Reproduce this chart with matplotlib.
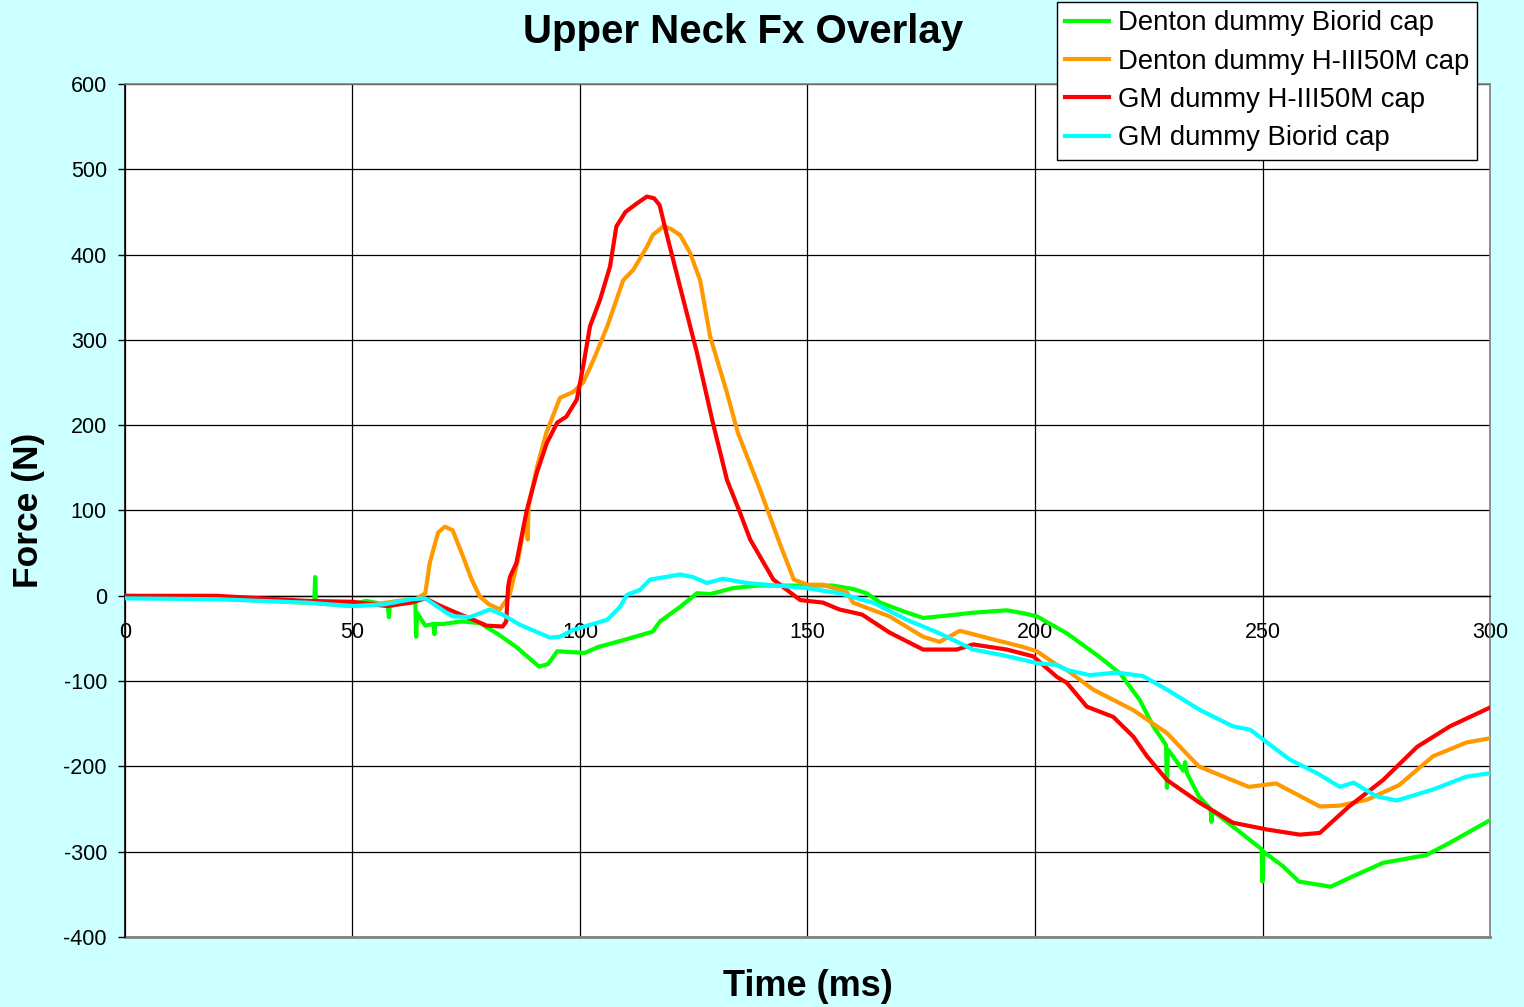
import matplotlib
matplotlib.use("Agg")
import matplotlib.pyplot as plt

# Time axis (ms) and upper-neck Fx (N) for each test configuration
t_denton_biorid = [0, 10, 20, 30, 40, 41.6, 41.8, 42.0, 45, 50, 53, 55, 57.8, 58.0, 58.2, 60, 63,
                   63.8, 64.0, 64.2, 66, 67.8, 68.0, 68.2, 70, 74, 78, 82, 86, 91, 93, 95, 98, 101,
                   104, 109.5, 116, 117.6, 122, 125.7, 128.6, 133.6, 139, 146, 153, 155.6, 160, 163,
                   166, 171, 175.4, 181, 186, 193.8, 197, 200.4, 203, 207, 214, 218.7, 223, 226,
                   228.8, 229.0, 229.2, 232.6, 233.0, 233.4, 236, 238.6, 238.8, 239.0, 243.6,
                   249.8, 250.0, 250.2, 254.5, 258, 265, 269, 276.5, 286, 291, 300]
f_denton_biorid = [-2, -2, -3, -5, -8, -8, 22, -8, -9, -10, -6, -8, -12, -25, -12, -10, -5,
                   -5, -48, -20, -35, -33, -45, -33, -33, -30, -32, -45, -60, -83, -80, -65, -66, -67,
                   -60, -52, -42, -30, -13, 3, 2, 9, 12, 12, 12, 12, 8, 3,
                   -8, -18, -26, -23, -20, -17, -20, -24, -32, -44, -71, -91, -122, -153,
                   -175, -225, -180, -205, -195, -208, -235, -250, -265, -252, -271,
                   -297, -335, -300, -317, -335, -341, -331, -313, -304, -290, -263]

t_denton_h3 = [0, 20, 40, 50, 55, 60, 64, 66, 67, 68.8, 70.3, 72, 74.3, 76.2, 78, 80, 82.4,
               84.5, 86.5, 88.4, 88.5, 88.7, 90.5, 92.6, 95.6, 98.5, 100.7, 103, 106, 109.5, 111.7,
               114.7, 116, 118.3, 120, 122, 124.2, 126.4, 128.6, 132.3, 134.7, 139.6, 144, 147, 150,
               153.4, 158.7, 160, 168, 175.4, 179, 183.5, 190, 197.4, 200.4, 204.8, 207, 212.8,
               221.6, 229, 236, 247, 253, 262.6, 267, 273, 280, 287.5, 294.8, 300]
f_denton_h3 = [0, -3, -8, -12, -10, -6, -4, 3, 39, 74, 81, 77, 46, 19, -1, -10, -16,
               0, 45, 100, 66, 105, 150, 191, 232, 239, 250, 277, 316, 370, 382,
               409, 423, 433, 430, 423, 402, 370, 304, 238, 191, 124, 60, 19, 13,
               13, 4, -8, -24, -48, -54, -41, -50, -60, -65, -81, -87, -110,
               -134, -161, -200, -224, -220, -247, -246, -239, -222, -188, -172, -167]

t_gm_h3 = [0, 20, 30, 40, 50, 57.5, 63, 66, 69, 72, 76.5, 79.5, 83, 83.8, 84.2, 84.6, 86, 88.3,
           90.5, 92.7, 95, 97, 99.3, 100.7, 102.2, 104.4, 106.6, 108, 110, 112.5, 114.7, 116.3,
           117.5, 119, 122, 125.7, 129.2, 132.3, 135.2, 137.4, 142.5, 148.4, 153.4, 157, 162,
           168, 175.4, 182.8, 186.4, 193.8, 199.6, 204.8, 207, 211.4, 217.2, 221.6, 224.6, 229,
           236.3, 243.5, 251, 258.2, 262.6, 269, 276.5, 284, 291.2, 300]
f_gm_h3 = [0, 0, -3, -6, -7, -12, -8, -3, -11, -18, -28, -35, -36, -30, 10, 22, 38, 100,
           144, 179, 203, 210, 230, 269, 316, 347, 386, 433, 450, 460, 468, 466,
           458, 425, 362, 285, 203, 136, 97, 66, 19, -5, -8, -16, -22,
           -43, -63, -63, -57, -63, -71, -95, -102, -130, -142, -165, -188, -216,
           -243, -266, -274, -280, -278, -247, -216, -177, -153, -131]

t_gm_biorid = [0, 20, 40, 50, 57, 63, 66, 70.7, 72, 75.8, 80.2, 83, 86.8, 91.2, 93.4, 95.6, 98.5,
               106, 108.8, 110.3, 113.2, 115.4, 122, 124.8, 127.9, 131.4, 136.7, 149.9, 157, 164.4,
               171.8, 179, 186.4, 192.3, 197.4, 200.4, 204.8, 207, 212, 218, 223.7, 229, 236.3,
               243.5, 247.3, 251, 256, 262, 267, 270, 275, 279.5, 287.5, 294.8, 300]
f_gm_biorid = [-3, -4, -8, -12, -10, -4, -3, -20, -24, -25, -16, -22, -34, -44, -49, -48, -40,
               -28, -13, 1, 7, 19, 25, 22, 15, 20, 15, 9, 3, -8,
               -28, -44, -63, -69, -75, -79, -81, -87, -93, -90, -94, -110, -134,
               -153, -157, -172, -192, -208, -224, -219, -235, -240, -227, -212, -208]

series_labels = ["Denton dummy Biorid cap", "Denton dummy H-III50M cap",
                 "GM dummy H-III50M cap", "GM dummy Biorid cap"]
series_colors = ["#00FF00", "#FF9900", "#FF0000", "#00FFFF"]

x_ticks = [0, 50, 100, 150, 200, 250, 300]
y_ticks = [-400, -300, -200, -100, 0, 100, 200, 300, 400, 500, 600]

plt.rcParams["font.family"] = ["Liberation Sans", "DejaVu Sans"]

fig = plt.figure(figsize=(15.24, 10.07), dpi=100, facecolor="#CCFFFF")
ax = fig.add_axes([0.082, 0.0695, 0.8957, 0.8471])
ax.set_facecolor("white")

series = [(t_denton_biorid, f_denton_biorid), (t_denton_h3, f_denton_h3),
          (t_gm_h3, f_gm_h3), (t_gm_biorid, f_gm_biorid)]
handles = []
for (t, f), lab, col in zip(series, series_labels, series_colors):
    h, = ax.plot(t, f, color=col, lw=3.0, label=lab, solid_joinstyle="round", zorder=3)
    handles.append(h)

ax.set_xlim(0, 300)
ax.set_ylim(-400, 600)
ax.set_xticks(x_ticks)
ax.set_yticks(y_ticks)
ax.set_xticklabels([str(v) for v in x_ticks])
ax.set_yticklabels([str(v) for v in y_ticks])
ax.grid(True, color="black", lw=0.9, zorder=1)

# x axis sits on the zero line
ax.spines["bottom"].set_position(("data", 0))
ax.spines["bottom"].set_color("black")
ax.spines["bottom"].set_linewidth(1.0)
ax.spines["left"].set_color("black")
ax.spines["left"].set_linewidth(1.2)
for s in ("top", "right"):
    ax.spines[s].set_color("#808080")
    ax.spines[s].set_linewidth(1.2)
ax.axhline(-400, color="#808080", lw=2.0, zorder=2, clip_on=False)

ax.tick_params(axis="x", length=0, pad=19, labelsize=15.5)
ax.tick_params(axis="y", length=5, width=1, direction="out", pad=8, labelsize=15.5)

fig.text(0.4876, 0.968, "Upper Neck Fx Overlay", ha="center", va="center",
         fontsize=29, fontweight="bold")
fig.text(0.530, 0.020, "Time (ms)", ha="center", va="center",
         fontsize=26, fontweight="bold")
fig.text(0.0184, 0.4935, "Force (N)", ha="center", va="center", rotation=90,
         fontsize=25.5, fontweight="bold")

leg = fig.legend(handles=handles, loc="upper left", bbox_to_anchor=(0.6936, 0.998),
                 fontsize=19.8, frameon=True, fancybox=False, shadow=False,
                 borderaxespad=0, borderpad=0.3, labelspacing=0.45,
                 handlelength=1.6, handletextpad=0.3)
leg.get_frame().set_edgecolor("black")
leg.get_frame().set_linewidth(1.0)
leg.get_frame().set_facecolor("white")
leg.get_frame().set_alpha(1.0)

fig.savefig("out.png", dpi=100, facecolor=fig.get_facecolor())
